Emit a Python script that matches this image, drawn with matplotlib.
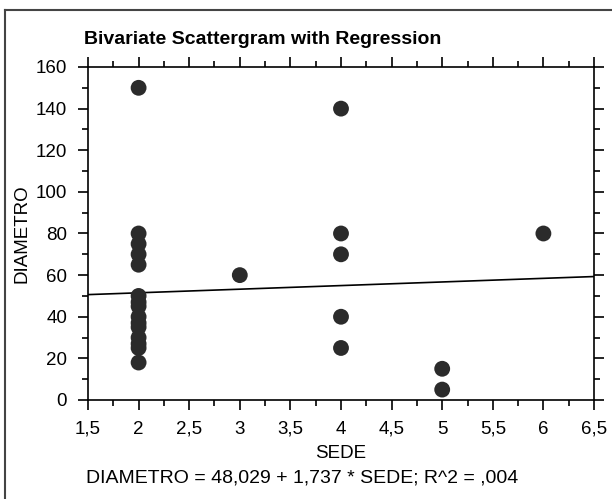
import matplotlib
matplotlib.use("Agg")
import matplotlib.pyplot as plt
from matplotlib.lines import Line2D
from matplotlib.ticker import MultipleLocator, FuncFormatter

# data
sede = [2, 2, 2, 2, 2, 2, 2, 2, 2, 2, 2, 2, 2, 2, 2,
        3, 4, 4, 4, 4, 4, 5, 5, 6]
diametro = [150, 80, 75, 70, 65, 50, 47, 45, 40, 37, 35, 30, 27, 25, 18,
            60, 140, 80, 70, 40, 25, 15, 5, 80]
intercept = 48.029
slope = 1.737
r2 = 0.004
x_range = [1.5, 6.5]

plt.rcParams["font.family"] = ["Liberation Sans", "DejaVu Sans"]

W, H = 612, 499
fig = plt.figure(figsize=(W / 100, H / 100), dpi=100)
ax = fig.add_axes([88 / W, 1 - 400 / H, (594 - 88) / W, (400 - 67) / H])

ax.scatter(sede, diametro, s=130, color="#2b2b2b", edgecolors="none", zorder=3)
ax.plot(x_range, [intercept + slope * x for x in x_range], color="black", lw=1.2)

ax.set_xlim(1.5, 6.5)
ax.set_ylim(0, 160)
ax.xaxis.set_major_locator(MultipleLocator(0.5))
ax.xaxis.set_minor_locator(MultipleLocator(0.25))
ax.yaxis.set_major_locator(MultipleLocator(20))
ax.yaxis.set_minor_locator(MultipleLocator(10))
ax.xaxis.set_major_formatter(FuncFormatter(lambda v, p: f"{v:g}".replace(".", ",")))
ax.tick_params(which="both", direction="out", top=True, right=True,
               labeltop=False, labelright=False, width=1.2, labelsize=13.5)
ax.tick_params(which="major", length=7)
ax.tick_params(which="minor", length=4)
ax.tick_params(axis="x", which="major", pad=8)
ax.tick_params(axis="y", which="major", pad=8)
for s in ax.spines.values():
    s.set_linewidth(1.2)

ax.set_xlabel("SEDE", fontsize=13.5, labelpad=5)
ax.set_ylabel("DIAMETRO", fontsize=13.5, labelpad=4)
fig.text(84 / W, 1 - 39 / H, "Bivariate Scattergram with Regression",
         fontsize=14, fontweight="bold", va="center", ha="left")

eq = f"DIAMETRO = {intercept:.3f} + {slope:.3f} * SEDE; R^2 = {r2:.3f}".replace(".", ",").replace("0,004", ",004")
fig.text(86 / W, 1 - 478 / H, eq, fontsize=14, va="center", ha="left")

# outer frame (top and left edges only)
fig.add_artist(Line2D([5 / W, 1], [1 - 10 / H] * 2, color="#444444", lw=1.5))
fig.add_artist(Line2D([5 / W] * 2, [0, 1 - 10 / H], color="#444444", lw=1.5))

fig.savefig("out.png", dpi=100)
